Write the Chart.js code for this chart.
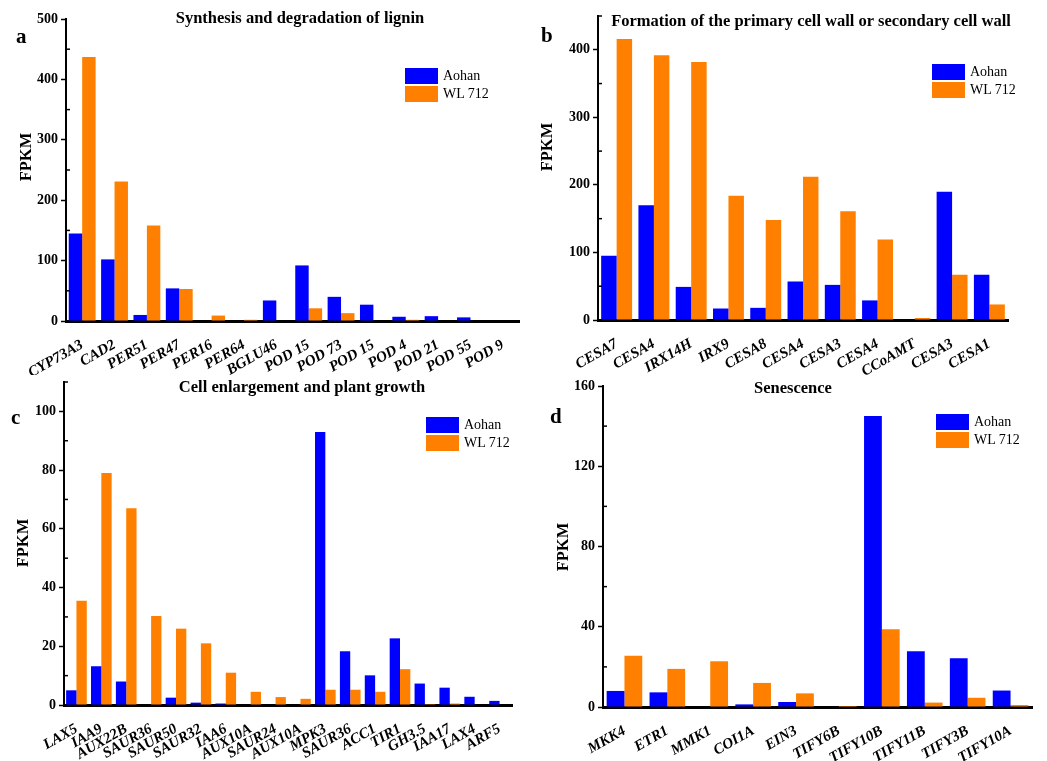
<!DOCTYPE html>
<html lang="en">
<head>
<meta charset="UTF-8">
<title>FPKM of genes in Aohan and WL 712</title>
<script src="https://cdn.jsdelivr.net/npm/chart.js"></script>
<style>
  body { margin: 0; background: #fff; font-family: "Liberation Serif", serif; }
  #page { position: relative; width: 1047px; height: 761px; overflow: hidden; }
  .panel { position: absolute; }
  .txt { position: absolute; white-space: nowrap; color: #000; }
  .title { font-weight: bold; font-size: 16.5px; transform: translateX(-50%); }
  .letter { font-weight: bold; font-size: 21px; }
  .ylab { font-weight: bold; font-size: 16.5px; transform: translate(-50%, -50%) rotate(-90deg); }
  .legend { position: absolute; font-size: 14px; }
  .legend div { display: flex; align-items: center; height: 18px; }
  .legend span.box { display: inline-block; width: 33px; height: 16px; margin-right: 5px; }
</style>
</head>
<body>
<div id="page">
  <div class="panel" style="left:0;top:0;width:525px;height:375px"><canvas id="chartA"></canvas></div>
  <div class="panel" style="left:525px;top:0;width:522px;height:375px"><canvas id="chartB"></canvas></div>
  <div class="panel" style="left:0;top:375px;width:525px;height:386px"><canvas id="chartC"></canvas></div>
  <div class="panel" style="left:525px;top:375px;width:522px;height:386px"><canvas id="chartD"></canvas></div>

  <div class="txt title" style="left:300px;top:8px">Synthesis and degradation of lignin</div>
  <div class="txt title" style="left:811px;top:11px">Formation of the primary cell wall or secondary cell wall</div>
  <div class="txt title" style="left:302px;top:377px">Cell enlargement and plant growth</div>
  <div class="txt title" style="left:793px;top:378px">Senescence</div>

  <div class="txt letter" style="left:16px;top:24px">a</div>
  <div class="txt letter" style="left:541px;top:23px">b</div>
  <div class="txt letter" style="left:11px;top:405px">c</div>
  <div class="txt letter" style="left:550px;top:404px">d</div>

  <div class="txt ylab" style="left:26px;top:157px">FPKM</div>
  <div class="txt ylab" style="left:547px;top:147px">FPKM</div>
  <div class="txt ylab" style="left:23px;top:543px">FPKM</div>
  <div class="txt ylab" style="left:563px;top:547px">FPKM</div>

  <div class="legend" style="left:405px;top:67px"><div><span class="box" style="background:#0000ff"></span>Aohan</div><div><span class="box" style="background:#ff8000"></span>WL 712</div></div>
  <div class="legend" style="left:932px;top:63px"><div><span class="box" style="background:#0000ff"></span>Aohan</div><div><span class="box" style="background:#ff8000"></span>WL 712</div></div>
  <div class="legend" style="left:426px;top:416px"><div><span class="box" style="background:#0000ff"></span>Aohan</div><div><span class="box" style="background:#ff8000"></span>WL 712</div></div>
  <div class="legend" style="left:936px;top:413px"><div><span class="box" style="background:#0000ff"></span>Aohan</div><div><span class="box" style="background:#ff8000"></span>WL 712</div></div>
</div>

<script>
// a: lignin
const ligninGenes = ['CYP73A3', 'CAD2', 'PER51', 'PER47', 'PER16', 'PER64', 'BGLU46', 'POD 15', 'POD 73', 'POD 15', 'POD 4', 'POD 21', 'POD 55', 'POD 9'];
const ligninAohan = [145, 102, 10, 54, 0, 0, 34, 92, 40, 27, 7, 8, 6, 0];
const ligninWL = [437, 231, 158, 53, 9, 2, 0, 21, 13, 0, 2, 0, 0, 0];
const ligninTicks = [0, 100, 200, 300, 400, 500];

// b: cell wall
const wallGenes = ['CESA7', 'CESA4', 'IRX14H', 'IRX9', 'CESA8', 'CESA4', 'CESA3', 'CESA4', 'CCoAMT', 'CESA3', 'CESA1'];
const wallAohan = [95, 170, 49, 17, 18, 57, 52, 29, 0, 190, 67];
const wallWL = [416, 392, 382, 184, 148, 212, 161, 119, 3, 67, 23];
const wallTicks = [0, 100, 200, 300, 400];

// c: growth
const growthGenes = ['LAX5', 'IAA9', 'AUX22B', 'SAUR36', 'SAUR50', 'SAUR32', 'IAA6', 'AUX10A', 'SAUR24', 'AUX10A', 'MPK3', 'SAUR36', 'ACC1', 'TIR1', 'GH3.5', 'IAA17', 'LAX4', 'ARF5'];
const growthAohan = [5, 13.2, 8, 0, 2.5, 0.8, 0.5, 0, 0, 0, 93, 18.3, 10.1, 22.7, 7.3, 5.9, 2.8, 1.4];
const growthWL = [35.5, 79, 67, 30.3, 26, 21, 11, 4.5, 2.7, 2.1, 5.2, 5.2, 4.5, 12.2, 0.3, 0.5, 0, 0];
const growthTicks = [0, 20, 40, 60, 80, 100];

// d: senescence
const senGenes = ['MKK4', 'ETR1', 'MMK1', 'COI1A', 'EIN3', 'TIFY6B', 'TIFY10B', 'TIFY11B', 'TIFY3B', 'TIFY10A'];
const senAohan = [8, 7.3, 0, 1.3, 2.5, 0, 145, 27.8, 24.3, 8.2];
const senWL = [25.5, 19, 22.8, 12, 6.8, 0.5, 38.7, 2.2, 4.6, 1];
const senTicks = [0, 40, 80, 120, 160];

const BLUE = '#0000ff';
const ORANGE = '#ff8000';
const FONT = 'Liberation Serif';

// box: chart area inside the canvas [left, top, right, bottom]
function makeChart(id, W, H, box, labels, aohan, wl, max, step, major) {
  const [left, top, right, bottom] = box;
  const minorTicks = {
    id: 'minorTicks',
    afterDraw(chart) {
      const y = chart.scales.y, ctx = chart.ctx;
      ctx.save();
      ctx.strokeStyle = '#000';
      ctx.lineWidth = 1.5;
      y.ticks.forEach(t => {
        if (major.includes(t.value)) return;
        const p = y.getPixelForValue(t.value);
        ctx.beginPath();
        ctx.moveTo(y.right, p);
        ctx.lineTo(y.right + 4, p);
        ctx.stroke();
      });
      ctx.restore();
    }
  };
  return new Chart(document.getElementById(id), {
    type: 'bar',
    data: {
      labels: labels,
      datasets: [
        { label: 'Aohan', data: aohan, backgroundColor: BLUE },
        { label: 'WL 712', data: wl, backgroundColor: ORANGE }
      ]
    },
    options: {
      responsive: true,
      maintainAspectRatio: false,
      animation: false,
      datasets: { bar: { categoryPercentage: 0.83, barPercentage: 1.0 } },
      layout: { padding: { left: 0, top: top, right: W - right, bottom: 0 } },
      plugins: { legend: { display: false }, tooltip: { enabled: false } },
      scales: {
        x: {
          grid: { display: false },
          border: { display: true, color: '#000', width: 3 },
          ticks: {
            color: '#000', autoSkip: false, maxRotation: 30, minRotation: 30, padding: 7,
            font: { family: FONT, size: 15, weight: 'bold', style: 'italic' }
          },
          afterFit(s) { s.height = H - bottom; s.paddingLeft = 0; s.paddingRight = 0; }
        },
        y: {
          min: 0, max: max,
          grid: {
            display: true, drawOnChartArea: false, drawTicks: true, tickLength: 5, tickWidth: 1.5,
            tickColor: c => major.includes(c.tick.value) ? '#000' : 'rgba(0,0,0,0)'
          },
          border: { display: true, color: '#000', width: 2 },
          ticks: {
            stepSize: step, autoSkip: false, color: '#000', padding: 3,
            font: { family: FONT, size: 14, weight: 'bold' },
            callback: v => major.includes(v) ? v : ''
          },
          afterFit(s) { s.width = left; s.paddingTop = 0; s.paddingBottom = 0; }
        }
      }
    },
    plugins: [minorTicks]
  });
}

makeChart('chartA', 525, 375, [66, 19, 519, 321], ligninGenes, ligninAohan, ligninWL, 500, 50, ligninTicks);
makeChart('chartB', 522, 375, [73, 16, 483, 320], wallGenes, wallAohan, wallWL, 450, 50, wallTicks);
makeChart('chartC', 525, 386, [64, 7, 512, 330], growthGenes, growthAohan, growthWL, 110, 10, growthTicks);
makeChart('chartD', 522, 386, [78, 11, 507, 332], senGenes, senAohan, senWL, 160, 20, senTicks);
</script>
</body>
</html>
